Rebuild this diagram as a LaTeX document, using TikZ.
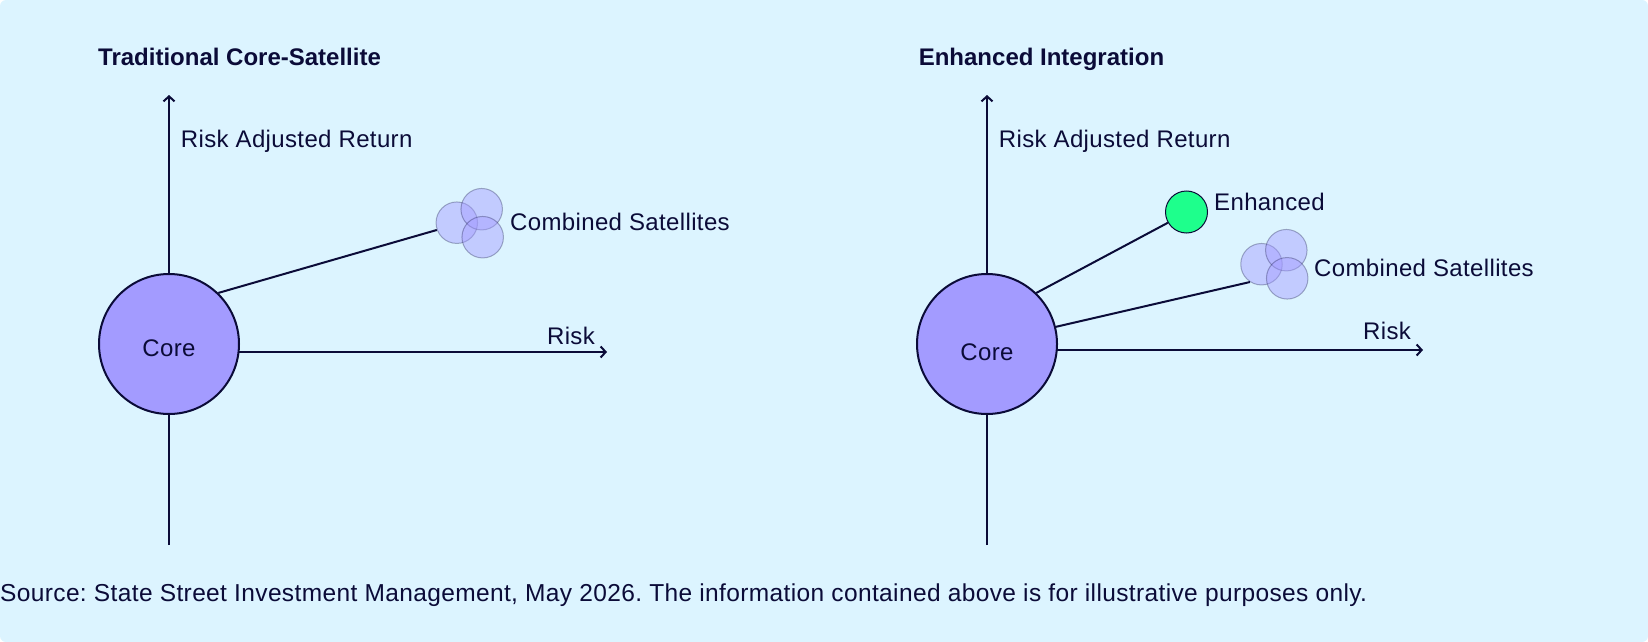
\documentclass[tikz,border=0pt]{standalone}
\usepackage{fontspec}
\setmainfont{Liberation Sans}
\newfontfamily\labelfont{Liberation Sans}[LetterSpace=1.5]
\usetikzlibrary{%
		arrows.meta%
	}
\definecolor{paleblue}{HTML}{DCF4FF}
\definecolor{ink}{HTML}{0B0B38}
\definecolor{corefill}{HTML}{A39BFF}
\definecolor{enhgreen}{HTML}{1EFF8C}

\begin{document}
\frenchspacing
\begin{tikzpicture}[x=1pt, y=-1pt,
		axis/.style={draw=ink, line width=2pt, -{Straight Barb[length=5pt,width=11pt]}},
		link/.style={draw=ink, line width=2pt},
		core/.style={circle, draw=ink, line width=2pt, fill=corefill, minimum size=140pt, inner sep=0pt},
		sat/.style={circle, draw=ink, draw opacity=0.3, line width=1pt, fill=corefill, fill opacity=0.45, minimum size=41.5pt, inner sep=0pt},
		enhanced/.style={circle, draw=ink, line width=1pt, fill=enhgreen, minimum size=42pt, inner sep=0pt},
		lbl/.style={text=ink, inner sep=0pt, font=\labelfont\fontsize{24}{28}\selectfont},
		title/.style={lbl, font=\fontsize{24}{28}\selectfont\bfseries},
		note/.style={lbl, font=\labelfont\fontsize{24.5}{28}\selectfont}]
	 		% background
	 		\useasboundingbox (0,0) rectangle (1648,642);
	 		\fill[paleblue, rounded corners=6pt] (0,0) rectangle (1648,642);
	 		% traditional core-satellite
	 		\node[title, anchor=base west] (titleL) at (98,65.7) {Traditional Core-Satellite};
	 		\coordinate (yLbot) at (169,545);
	 		\coordinate (yLtop) at (169,95);
	 		\coordinate (xLleft) at (169,352);
	 		\coordinate (xLright) at (607,352);
	 		\draw[axis] (yLbot) -- (yLtop);
	 		\draw[axis] (xLleft) -- (xLright);
	 		\node[lbl, anchor=base west] (retL) at (180.7,147) {Risk Adjusted Return};
	 		\node[lbl, anchor=base] (riskL) at (571,344) {Risk};
	 		% satellites
	 		\node[sat] (satLa) at (456.8,222.7) {};
	 		\node[sat] (satLb) at (481.7,209.2) {};
	 		\node[sat] (satLc) at (482.7,237.2) {};
	 		\node[lbl, anchor=base west] (combL) at (510,230) {Combined Satellites};
	 		% core
	 		\node[core] (coreL) at (169,344) {};
	 		\node[lbl] (coreLtxt) at (169,348) {Core};
	 		\draw[link] (coreL.46) -- (satLa.200);
	 		% enhanced integration
	 		\node[title, anchor=base west] (titleR) at (918.6,65.7) {Enhanced Integration};
	 		\coordinate (yRbot) at (987,545);
	 		\coordinate (yRtop) at (987,95);
	 		\coordinate (xRleft) at (987,350);
	 		\coordinate (xRright) at (1423,350);
	 		\draw[axis] (yRbot) -- (yRtop);
	 		\draw[axis] (xRleft) -- (xRright);
	 		\node[lbl, anchor=base west] (retR) at (998.7,147) {Risk Adjusted Return};
	 		\node[lbl, anchor=base] (riskR) at (1387,339.3) {Risk};
	 		% enhanced
	 		\node[enhanced] (enh) at (1186.5,212) {};
	 		\node[lbl, anchor=base west] (enhtxt) at (1214,210) {Enhanced};
	 		% satellites
	 		\node[sat] (satRa) at (1261.5,264.2) {};
	 		\node[sat] (satRb) at (1286.3,250.2) {};
	 		\node[sat] (satRc) at (1287.2,278.3) {};
	 		\node[lbl, anchor=base west] (combR) at (1314,276) {Combined Satellites};
	 		% core
	 		\node[core] (coreR) at (987,344) {};
	 		\node[lbl] (coreRtxt) at (987,352) {Core};
	 		\draw[link] (coreR.46) -- (enh.210);
	 		\draw[link] (coreR.14) -- (satRa.237);
	 		% source
	 		\node[note, anchor=base west] (source) at (0,601) {Source: State Street Investment Management, May 2026. The information contained above is for illustrative purposes only.};
\end{tikzpicture}
\end{document}
